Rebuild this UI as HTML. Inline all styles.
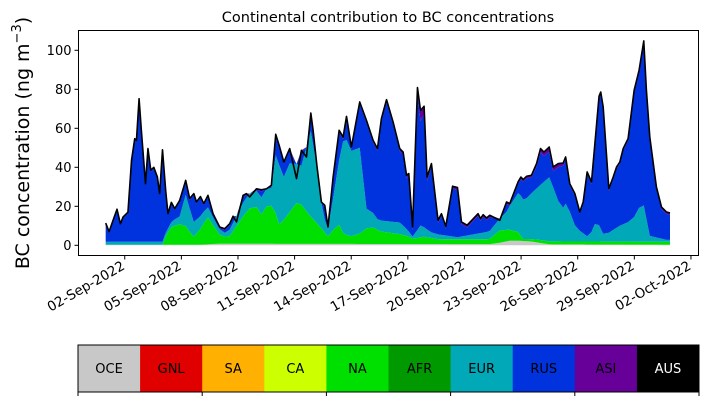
<!DOCTYPE html>
<html><head><meta charset="utf-8"><style>
body{margin:0;background:#fff;}
svg{display:block;font-family:"DejaVu Sans","Liberation Sans",sans-serif;}
</style></head><body>
<svg id="chart" width="707" height="402" viewBox="0 0 707 402"></svg>
<script>
const days=[0.99,1.17,1.38,1.59,1.77,1.91,2.17,2.36,2.53,2.62,2.76,2.88,3.10,3.23,3.38,3.54,3.73,3.85,4.00,4.17,4.29,4.47,4.65,4.91,5.23,5.44,5.66,5.80,6.01,6.19,6.41,6.68,7.03,7.30,7.56,7.74,7.92,8.27,8.45,8.62,8.98,9.24,9.51,9.77,10.00,10.18,10.43,10.74,11.10,11.36,11.63,11.86,11.98,12.19,12.42,12.60,12.77,13.04,13.36,13.57,13.75,14.01,14.45,14.81,15.16,15.39,15.60,15.87,16.22,16.57,16.75,16.93,17.05,17.25,17.51,17.67,17.86,18.02,18.25,18.60,18.78,19.01,19.37,19.63,19.84,20.14,20.72,20.85,20.99,21.17,21.34,21.87,22.23,22.40,22.84,22.99,23.11,23.29,23.55,23.82,24.03,24.21,24.49,24.70,24.97,25.23,25.36,25.58,25.85,26.11,26.29,26.50,26.73,26.91,27.13,27.22,27.35,27.65,27.88,28.06,28.23,28.41,28.67,28.99,29.25,29.50,29.64,29.82,30.17,30.44,30.70,30.89];
const total=[11.4,7,12.8,18.5,11,14.5,17,43.6,54.7,53.8,75.2,59,31.6,49.6,38.5,40,35,26.5,49,28,16.2,22,18.8,23,33.3,24,26.5,22.2,25,21.4,25.6,16.2,9.4,8.5,11.1,14.9,12,25.6,26.5,24.8,29,28.5,29,30.8,56.9,51.3,42.7,49.6,34.2,48.7,45.3,67.8,59,40.2,22.2,20.5,9.4,35,59,55.5,66.1,50.4,73.5,64,53.8,49.6,65,74.7,63.2,49.6,47.8,35.9,36.8,9.4,80.9,69.2,71.3,35,41.9,12.8,16.2,9.7,30.3,29.6,12,10.3,16.2,13.7,15.7,14,15.4,12.8,22.2,21.4,32.5,35,33.7,35.4,35.9,41.9,49.6,47.8,50.4,40.2,41.9,42.2,45.3,31.6,26.5,17.1,22.2,37.6,32.5,52.1,76.4,78.6,70.9,29,35,40.2,42.7,49.6,54.7,79.5,89.7,104.8,79.5,55.5,29.9,19.6,17.1,16.6];
const naDays=[0.99,4.0,4.2,4.5,4.9,5.3,5.6,6.0,6.4,6.7,6.9,7.5,8.3,8.6,8.9,9.2,9.6,9.9,10.2,10.6,11.2,11.8,12.3,12.8,13.3,13.6,14.2,15.0,15.5,16.6,17.0,17.3,17.8,18.6,19.6,21.3,21.9,22.8,23.1,24.0,27.0,30.89];
const na=[0,0,5,9.4,10.5,9.4,3.5,8,14,9.4,5,3,14.5,18,20.5,14.5,20.5,18.8,9.4,14.5,22.2,14.5,9.4,3.5,11,5,3.5,9.4,6.5,5,4,2.6,3.8,2.5,2.5,2.5,6.5,5,1,1.5,1.5,1.5];
const eurDays=[0.99,4.0,4.29,4.91,5.23,5.66,6.19,6.68,7.3,8.27,9.35,9.8,10.05,10.43,10.74,11.1,11.36,11.86,12.19,12.5,12.77,13.25,13.57,13.9,14.2,14.45,14.7,15.4,16.57,16.8,17.25,17.67,18.2,19.63,21.34,22.1,22.9,23.2,24.2,24.5,25.15,25.4,25.9,26.6,27.0,27.4,28.2,28.9,29.45,29.82,30.7];
const eur=[1.5,1.5,2,4,16,7.5,6,4,2,7,9,9,35,22,25,20,20,44,28,8,4,26,47,50,33,44,11,5.5,6,4.5,1,6,3,1,4,7,21,20,30,33,16,20,7,2,11,3,8,11,21,3,1];
const asiDays=[0.99,10.0,16.0,17.4,17.7,18.1,23.5,24.5,25.5,30.89];
const asi=[0.6,0.8,1.2,1.5,6,1.2,1,2.5,1,1];
const oceDays=[0.99,6.0,7.0,21.5,22.5,23.5,24.5,30.89];
const oce=[0.3,0.3,0.8,0.6,2.5,2,0.5,0.3];
const xTickDays=[2,5,8,11,14,17,20,23,26,29,32];
const xTickLabels=['02-Sep-2022','05-Sep-2022','08-Sep-2022','11-Sep-2022','14-Sep-2022','17-Sep-2022','20-Sep-2022','23-Sep-2022','26-Sep-2022','29-Sep-2022','02-Oct-2022'];
const yTicks=[0,20,40,60,80,100];
const regions=['OCE','GNL','SA','CA','NA','AFR','EUR','RUS','ASI','AUS'];
const regionColors=['#c8c8c8','#e00000','#ffb000','#ccff00','#00e000','#009a00','#00a8b8','#0033dd','#660099','#000000'];

const NS='http://www.w3.org/2000/svg';
const svg=document.getElementById('chart');
const L=78.5,R=698.5,T=30.5,B=255.5;
const xd0=-0.45,xd1=32.4;
const xs=d=>L+(d-xd0)/(xd1-xd0)*(R-L);
const ys=v=>245.3-v*1.95;
function mk(tag,attrs,parent){const e=document.createElementNS(NS,tag);for(const k in attrs)e.setAttribute(k,attrs[k]);(parent||svg).appendChild(e);return e;}
function interp(dx,vx,d){if(d<=dx[0])return vx[0];for(let i=1;i<dx.length;i++){if(d<=dx[i]){const f=(d-dx[i-1])/(dx[i]-dx[i-1]);return vx[i-1]+f*(vx[i]-vx[i-1]);}}return vx[vx.length-1];}

let t=mk('text',{x:388,y:22,'text-anchor':'middle','font-size':'14.5'});t.textContent='Continental contribution to BC concentrations';



const gA=mk('g',{});


let base=days.map(()=>0);
const layers=[
 {name:'oce',col:regionColors[0],vals:days.map(d=>interp(oceDays,oce,d))},
 {name:'na',col:regionColors[4],vals:days.map(d=>interp(naDays,na,d))},
 {name:'eur',col:regionColors[6],vals:days.map(d=>interp(eurDays,eur,d))}
];
const below=days.map((d,i)=>layers.reduce((s,l)=>s+l.vals[i],0));
const asiV=days.map(d=>interp(asiDays,asi,d));
layers.push({name:'rus',col:regionColors[7],vals:days.map((d,i)=>Math.max(0,total[i]-below[i]-asiV[i]))});
layers.push({name:'asi',col:regionColors[8],vals:days.map((d,i)=>Math.min(asiV[i],total[i]-below[i]))});
layers.forEach(l=>{
 const top=base.map((b,i)=>b+Math.max(0,l.vals[i]));
 let p='M'+days.map((d,i)=>xs(d).toFixed(2)+','+ys(top[i]).toFixed(2)).join('L');
 for(let i=days.length-1;i>=0;i--)p+='L'+xs(days[i]).toFixed(2)+','+ys(base[i]).toFixed(2);
 const e=mk('path',{d:p+'Z',fill:l.col,stroke:'none'},gA);
 
 
 base=top;
});
const tl=mk('path',{d:'M'+days.map((d,i)=>xs(d).toFixed(2)+','+ys(total[i]).toFixed(2)).join('L'),fill:'none',stroke:'#000','stroke-width':1.6,'stroke-linejoin':'round'});



const fr=mk('rect',{x:L,y:T,width:R-L,height:B-T,fill:'none',stroke:'#000','stroke-width':1});


const gx=mk('g',{});


xTickDays.forEach((d,i)=>{
 const x=xs(d);
 mk('line',{x1:x,x2:x,y1:B,y2:B+4,stroke:'#000'},gx);
 const lb=mk('text',{x:x+1,y:B+13,'text-anchor':'end','font-size':'13.5',transform:`rotate(-30 ${x+1} ${B+13})`},gx);
 lb.textContent=xTickLabels[i];
 
 
});
const gy=mk('g',{});


yTicks.forEach(v=>{
 const y=ys(v);
 mk('line',{x1:L-4,x2:L,y1:y,y2:y,stroke:'#000'},gy);
 const lb=mk('text',{x:L-7,y:y+4.5,'text-anchor':'end','font-size':'13'},gy);
 lb.textContent=v;
 
 
});
const yt=mk('text',{x:0,y:0,'text-anchor':'middle','font-size':'19',transform:'translate(29 143) rotate(-90)'});
yt.innerHTML='BC concentration (ng m<tspan dy="-8" font-size="13">−3</tspan><tspan dy="8">)</tspan>';



const gl=mk('g',{});


const lx0=78,lx1=699,ly0=345,ly1=392,cw=(lx1-lx0)/regions.length;
regions.forEach((r,i)=>{
 const c=mk('rect',{x:lx0+i*cw,y:ly0,width:cw+0.5,height:ly1-ly0,fill:regionColors[i]},gl);
 
 
 const tx=mk('text',{x:lx0+(i+0.5)*cw,y:ly0+28,'text-anchor':'middle','font-size':'13',fill:r==='AUS'?'#fff':'#000'},gl);
 tx.textContent=r;
 
 
});
mk('rect',{x:lx0,y:ly0,width:lx1-lx0,height:ly1-ly0,fill:'none',stroke:'#000','stroke-width':1},gl);
for(let i=0;i<=regions.length;i+=2){mk('line',{x1:lx0+i*cw,x2:lx0+i*cw,y1:ly1,y2:ly1+4,stroke:'#000'},gl);}
</script>
</body></html>
